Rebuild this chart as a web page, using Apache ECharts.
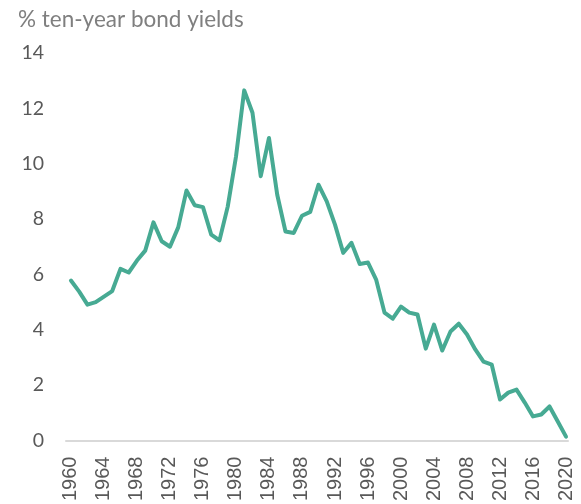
<!DOCTYPE html>
<html>
<head>
<meta charset="utf-8">
<style>
  html, body { margin: 0; padding: 0; background: #ffffff; }
  #chart { width: 581px; height: 504px; }
</style>
<script src="https://cdn.jsdelivr.net/npm/echarts@6/dist/echarts.min.js"></script>
</head>
<body>
<div id="chart"></div>
<script>
// Ten-year government bond yields, annual, 1960-2020 (%)
const years = [
  1960, 1961, 1962, 1963, 1964, 1965, 1966, 1967, 1968, 1969,
  1970, 1971, 1972, 1973, 1974, 1975, 1976, 1977, 1978, 1979,
  1980, 1981, 1982, 1983, 1984, 1985, 1986, 1987, 1988, 1989,
  1990, 1991, 1992, 1993, 1994, 1995, 1996, 1997, 1998, 1999,
  2000, 2001, 2002, 2003, 2004, 2005, 2006, 2007, 2008, 2009,
  2010, 2011, 2012, 2013, 2014, 2015, 2016, 2017, 2018, 2019,
  2020
];
const yields = [
  5.78, 5.38, 4.91, 5.00, 5.20, 5.40, 6.20, 6.07, 6.50, 6.86,
  7.88, 7.20, 7.00, 7.70, 9.03, 8.50, 8.43, 7.44, 7.23, 8.45,
  10.25, 12.65, 11.84, 9.55, 10.93, 8.88, 7.55, 7.50, 8.12, 8.26,
  9.24, 8.64, 7.80, 6.78, 7.14, 6.38, 6.43, 5.80, 4.62, 4.40,
  4.84, 4.62, 4.55, 3.32, 4.19, 3.25, 3.94, 4.22, 3.83, 3.29,
  2.85, 2.74, 1.48, 1.73, 1.84, 1.37, 0.87, 0.94, 1.23, 0.69,
  0.14
];
const yearTicks = [1960, 1964, 1968, 1972, 1976, 1980, 1984, 1988, 1992, 1996, 2000, 2004, 2008, 2012, 2016, 2020];
const yieldTicks = [0, 2, 4, 6, 8, 10, 12, 14];
const titleText = '% ten-year bond yields';

const chart = echarts.init(document.getElementById('chart'), null, { renderer: 'canvas' });

chart.setOption({
  backgroundColor: '#ffffff',
  animation: false,
  title: {
    text: titleText,
    left: 13,
    top: 3,
    textStyle: {
      fontFamily: 'Lato',
      fontSize: 22.5,
      fontWeight: 'normal',
      color: '#7f7f7f'
    }
  },
  grid: { left: 66, right: 13, top: 53, bottom: 63, containLabel: false },
  xAxis: {
    type: 'value',
    min: 1959.4,
    max: 2020.24,
    splitLine: { show: false },
    axisTick: { show: false },
    axisLine: { show: true, lineStyle: { color: '#d9d9d9', width: 2 } },
    axisLabel: {
      customValues: yearTicks,
      rotate: 90,
      margin: 16,
      fontFamily: 'Liberation Sans',
      fontSize: 20,
      color: '#595959',
      formatter: v => String(v)
    }
  },
  yAxis: {
    type: 'value',
    min: 0,
    max: 14,
    interval: 2,
    splitLine: { show: false },
    axisLine: { show: false },
    axisTick: { show: false },
    axisLabel: {
      customValues: yieldTicks,
      margin: 22,
      fontFamily: 'Lato',
      fontSize: 19.5,
      color: '#595959'
    }
  },
  series: [{
    type: 'line',
    data: years.map((y, i) => [y, yields[i]]),
    showSymbol: false,
    lineStyle: { color: '#47aa93', width: 4, join: 'round', cap: 'round' },
    itemStyle: { color: '#47aa93' }
  }]
});
</script>
</body>
</html>
